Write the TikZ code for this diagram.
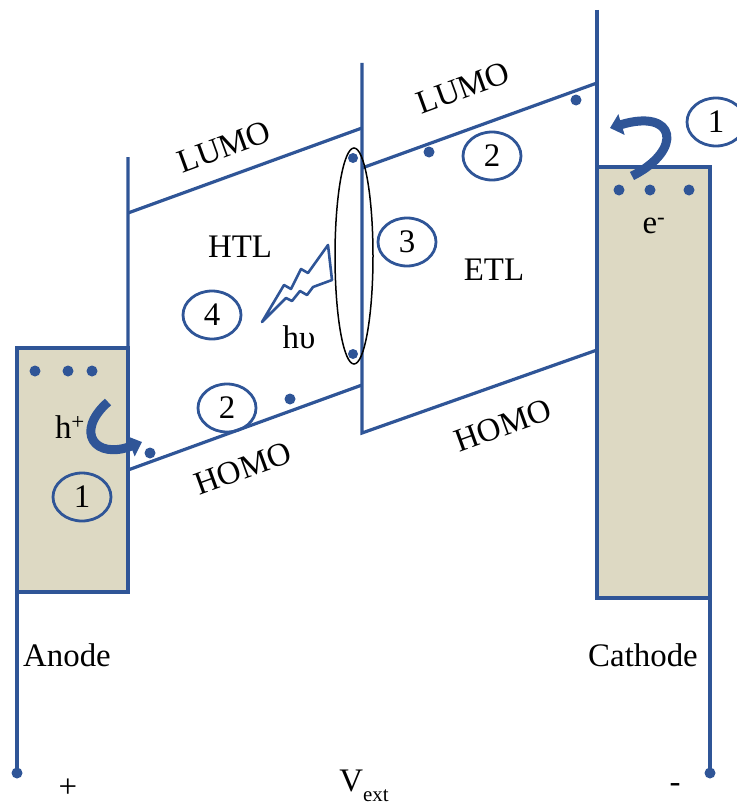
\documentclass[tikz,border=0pt]{standalone}
\usepackage{fontspec}
\setmainfont{Liberation Serif}
\usetikzlibrary{shapes.geometric,arrows.meta}
\definecolor{eblue}{RGB}{47,85,151}
\definecolor{etan}{RGB}{221,217,195}
\begin{document}
\begin{tikzpicture}[x=1bp,y=-1bp,
  band/.style={draw=eblue,line width=3.2bp},
  lbl/.style={font=\fontsize{33}{40}\selectfont,inner sep=0pt},
  num/.style={draw=eblue,line width=2.8bp,ellipse,minimum width=58bp,minimum height=48bp,inner sep=0pt,font=\fontsize{33}{40}\selectfont},
  edot/.style={circle,fill=eblue,inner sep=0pt,minimum size=11bp},
  flow/.style={draw=eblue,line width=9bp,-{Triangle[width=21bp,length=12bp]}}
]
\useasboundingbox (0,0) rectangle (737,807);
% electrodes
\draw[band,fill=etan] (17,348) rectangle (128,592);
\draw[band,fill=etan] (597,167) rectangle (710,598);
\coordinate (al) at (17,592);
\coordinate (ad) at (17,773);
\coordinate (cl) at (710,598);
\coordinate (cd) at (710,773);
\draw[band] (al) -- (ad);
\draw[band] (cl) -- (cd);
\node[edot] at (ad) {};
\node[edot] at (cd) {};
% HTL
\coordinate (h1) at (128,157);
\coordinate (h2) at (128,470);
\coordinate (h3) at (362,385);
\coordinate (h4) at (128,213);
\coordinate (h5) at (362,128);
\draw[band] (h1) -- (h2) -- (h3);
\draw[band] (h4) -- (h5);
% ETL
\coordinate (e1) at (362,63);
\coordinate (e2) at (362,433);
\coordinate (e3) at (597,350);
\coordinate (e4) at (362,168);
\coordinate (e5) at (597,83);
\coordinate (e6) at (597,10);
\coordinate (e7) at (597,167);
\draw[band] (e1) -- (e2) -- (e3);
\draw[band] (e4) -- (e5);
\draw[band] (e6) -- (e7);
% interface ellipse
\draw[line width=1.5bp] (354,256) ellipse [x radius=19, y radius=108];
\node[edot,minimum size=10bp] at (353,158) {};
\node[edot,minimum size=10bp] at (353,354) {};
% dots
\foreach \x in {35,68,92} \node[edot] at (\x,371) {};
\foreach \x in {619,650,689} \node[edot] at (\x,190) {};
\node[edot] at (150,453) {};
\node[edot] at (290,399) {};
\node[edot] at (429,152) {};
\node[edot] at (576,100) {};
% injection arrows
\coordinate (aa1) at (108,402);
\coordinate (aa2) at (142,442);
\draw[flow] (aa1) .. controls (74,432) and (95,460) .. (aa2);
\coordinate (ca1) at (632,176);
\coordinate (ca2) at (610,128);
\draw[flow] (ca1) .. controls (684,150) and (676,108) .. (ca2);
% photon
\draw[eblue,line width=2.6bp,line join=round] (262,322) -- (284,285) -- (291,289) -- (301,269) -- (308,273) -- (328,245) -- (332,280) -- (313,287) -- (307,295) -- (300,291) -- (292,301) -- (286,298) -- cycle;
% numbered circles
\node[num] (n1a) at (82,497) {1};
\node[num] (n1c) at (716,122) {1};
\node[num] (n2h) at (227,408) {2};
\node[num] (n2e) at (492,156) {2};
\node[num] (n3) at (407,242) {3};
\node[num] (n4) at (212,315) {4};
% labels
\node[lbl,rotate=20] (lh) at (224,147) {LUMO};
\node[lbl,rotate=20] (le) at (463,88) {LUMO};
\node[lbl,rotate=20] (hh) at (243,468) {HOMO};
\node[lbl,rotate=20] (he) at (503,425) {HOMO};
\node[lbl] (htl) at (240,247) {HTL};
\node[lbl] (etl) at (494,270) {ETL};
\node[lbl] (hv) at (299,337) {hυ};
\node[lbl] (hp) at (70,427) {h\textsuperscript{+}};
\node[lbl] (em) at (654,226) {e\textsuperscript{-}};
\node[lbl] (an) at (67,655) {Anode};
\node[lbl] (ca) at (643,655) {Cathode};
\node[lbl] (pl) at (68,788) {+};
\node[lbl] (mi) at (675,788) {-};
\node[lbl] (vx) at (364,786) {V\raisebox{-0.3em}{\fontsize{21}{21}\selectfont ext}};
\end{tikzpicture}
\end{document}
